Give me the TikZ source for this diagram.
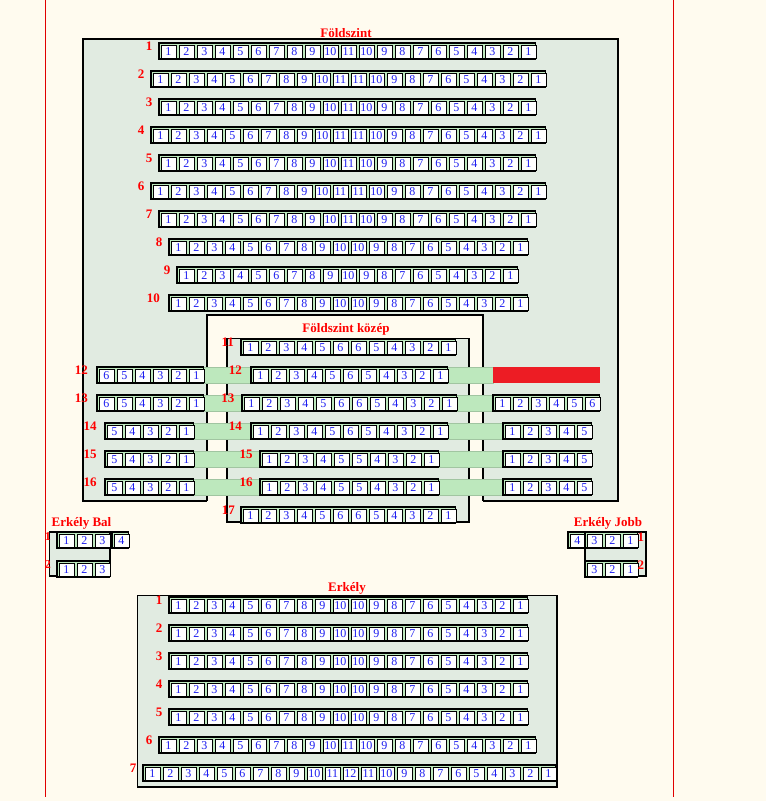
\documentclass[tikz,border=0pt]{standalone}
\usepackage{fontspec}
\setmainfont{Liberation Serif}
\definecolor{bgc}{HTML}{FFFBEF}
\definecolor{boxc}{HTML}{E1EBE1}
\definecolor{gapc}{HTML}{BDE8BD}
\definecolor{numc}{HTML}{1E1EF0}
\definecolor{lblc}{HTML}{FF0000}
\definecolor{redbar}{HTML}{ED1C24}
\definecolor{sidec}{HTML}{E00000}
\tikzset{
  rowbox/.style={fill=gapc, draw=black, line width=1.5pt},
  seat/.style={draw=black, fill=white, line width=0.8pt, minimum width=15pt, minimum height=13pt, inner sep=0pt, anchor=north west, text=numc, font=\fontsize{12}{12}\selectfont},
  lbl/.style={text=lblc, font=\fontsize{13}{13}\selectfont\bfseries, inner sep=0pt, anchor=base east},
  slbl/.style={text=lblc, font=\fontsize{12}{12}\selectfont\bfseries, inner sep=0pt},
  ttl/.style={text=lblc, font=\fontsize{13}{13}\selectfont\bfseries, inner sep=0pt, anchor=base},
  area/.style={fill=boxc, draw=black, line width=1.2pt},
  walk/.style={fill=gapc, draw=gapc!85!black, line width=0.3pt},
  sideline/.style={draw=sidec, line width=1pt},
}
\def\LA{1,2,3,4,5,6,7,8,9,10,11,10,9,8,7,6,5,4,3,2,1}
\def\LB{1,2,3,4,5,6,7,8,9,10,11,11,10,9,8,7,6,5,4,3,2,1}
\def\LC{1,2,3,4,5,6,7,8,9,10,10,9,8,7,6,5,4,3,2,1}
\def\LD{1,2,3,4,5,6,7,8,9,10,9,8,7,6,5,4,3,2,1}
\def\LE{1,2,3,4,5,6,7,8,9,10,11,12,11,10,9,8,7,6,5,4,3,2,1}
\def\MA{1,2,3,4,5,6,6,5,4,3,2,1}
\def\MB{1,2,3,4,5,6,5,4,3,2,1}
\def\MC{1,2,3,4,5,5,4,3,2,1}
\def\SA{6,5,4,3,2,1}
\def\SB{5,4,3,2,1}
\def\SC{1,2,3,4,5,6}
\def\SD{1,2,3,4,5}
\def\SE{1,2,3}
\def\SF{3,2,1}
\def\SG{4}
\newcommand\seatrow[4]{%
  \foreach \v [count=\i] in #4 {\xdef\seatN{\i}}
  \path[rowbox] (#2,#3) rectangle ++({18*\seatN-1.5},16);
  \foreach \v [count=\i] in #4 {\node[seat] (#1-\i) at ({#2+18*\i-16.5},{#3+1.5}) {\v};}
}
\begin{document}
\begin{tikzpicture}[x=1pt,y=-1pt]
\useasboundingbox (0,0) rectangle (766,801);
\fill[bgc] (0,0) rectangle (766,801);
\path[sideline] (45.3,0) -- (45.3,797);
\path[sideline] (673.3,0) -- (673.3,797);

% Foldszint
\path[area] (83,39) rectangle (618,501);
\fill[bgc] (207,315) rectangle (483,501.6);
\draw[line width=1.2pt] (207,501) -- (207,315) -- (483,315) -- (483,501);
\path[area] (227,338.5) rectangle (469,522);
\node[ttl] (tf) at (346,37.5) {Földszint};
\node[ttl] (tk) at (346,332) {Földszint közép};

\seatrow{r1}{159}{43}{\LA}
\seatrow{r2}{151}{71}{\LB}
\seatrow{r3}{159}{99}{\LA}
\seatrow{r4}{151}{127}{\LB}
\seatrow{r5}{159}{155}{\LA}
\seatrow{r6}{151}{183}{\LB}
\seatrow{r7}{159}{211}{\LA}
\seatrow{r8}{169}{239}{\LC}
\seatrow{r9}{177}{267}{\LD}
\seatrow{r10}{169}{295}{\LC}
\node[lbl] (l1) at (152.5,50) {1};
\node[lbl] (l2) at (144.5,78) {2};
\node[lbl] (l3) at (152.5,106) {3};
\node[lbl] (l4) at (144.5,134) {4};
\node[lbl] (l5) at (152.5,162) {5};
\node[lbl] (l6) at (144.5,190) {6};
\node[lbl] (l7) at (152.5,218) {7};
\node[lbl] (l8) at (162.5,246) {8};
\node[lbl] (l9) at (170.5,274) {9};
\node[lbl] (l10) at (160,302) {10};

% walkways
\path[walk] (203,367) rectangle (252,383);
\path[walk] (447,367) rectangle (493,383);
\fill[redbar] (493,367) rectangle (600,383);
\path[walk] (203,395) rectangle (243,411);
\path[walk] (456,395) rectangle (494,411);
\path[walk] (193,423) rectangle (252,439);
\path[walk] (447,423) rectangle (504,439);
\path[walk] (193,451) rectangle (261,467);
\path[walk] (438,451) rectangle (504,467);
\path[walk] (193,479) rectangle (261,495);
\path[walk] (438,479) rectangle (504,495);

\seatrow{r11}{241}{339}{\MA}
\seatrow{r12l}{97}{367}{\SA}
\seatrow{r12m}{251}{367}{\MB}
\seatrow{r13l}{97}{395}{\SA}
\seatrow{r13m}{242}{395}{\MA}
\seatrow{r13r}{493}{395}{\SC}
\seatrow{r14l}{105}{423}{\SB}
\seatrow{r14m}{251}{423}{\MB}
\seatrow{r14r}{503}{423}{\SD}
\seatrow{r15l}{105}{451}{\SB}
\seatrow{r15m}{260}{451}{\MC}
\seatrow{r15r}{503}{451}{\SD}
\seatrow{r16l}{105}{479}{\SB}
\seatrow{r16m}{260}{479}{\MC}
\seatrow{r16r}{503}{479}{\SD}
\seatrow{r17}{241}{507}{\MA}
\node[lbl] (l11) at (234,346) {11};
\node[lbl] (l12a) at (88,374) {12};
\node[lbl] (l12b) at (242,374) {12};
\node[lbl] (l13a) at (88,402) {13};
\node[lbl] (l13b) at (234.5,402) {13};
\node[lbl] (l14a) at (96.7,430) {14};
\node[lbl] (l14b) at (242,430) {14};
\node[lbl] (l15a) at (96.7,458) {15};
\node[lbl] (l15b) at (252.7,458) {15};
\node[lbl] (l16a) at (96.7,486) {16};
\node[lbl] (l16b) at (252.7,486) {16};
\node[lbl] (l17) at (235,514) {17};

% Erkely Bal
\path[area] (49.3,532) rectangle (110,576);
\node[ttl] (tb) at (81.5,526) {Erkély Bal};
\seatrow{b1}{57}{532}{\SE}
\seatrow{b1x}{112}{532}{\SG}
\seatrow{b2}{57}{561}{\SE}
\node[slbl, anchor=base east] (lb1) at (51,540) {1};
\node[slbl, anchor=base east] (lb2) at (51,568) {2};

% Erkely Jobb
\path[area] (585,532) rectangle (646,576);
\node[ttl] (tj) at (608,526) {Erkély Jobb};
\seatrow{j1x}{568}{532}{\SG}
\seatrow{j1}{585}{532}{\SF}
\seatrow{j2}{585}{561}{\SF}
\node[lbl, anchor=base west] (lj1) at (637.5,541) {1};
\node[lbl, anchor=base west] (lj2) at (637.5,569) {2};

% Erkely
\path[area] (137.3,595.5) rectangle (557,787);
\node[ttl] (te) at (347,591) {Erkély};
\seatrow{e1}{169}{597}{\LC}
\seatrow{e2}{169}{625}{\LC}
\seatrow{e3}{169}{653}{\LC}
\seatrow{e4}{169}{681}{\LC}
\seatrow{e5}{169}{709}{\LC}
\seatrow{e6}{159}{737}{\LA}
\seatrow{e7}{143}{765}{\LE}
\node[lbl] (le1) at (162.5,604.5) {1};
\node[lbl] (le2) at (162.5,632.5) {2};
\node[lbl] (le3) at (162.5,660.5) {3};
\node[lbl] (le4) at (162.5,688.5) {4};
\node[lbl] (le5) at (162.5,716.5) {5};
\node[lbl] (le6) at (152.5,744.5) {6};
\node[lbl] (le7) at (136.5,772.5) {7};
\end{tikzpicture}
\end{document}
